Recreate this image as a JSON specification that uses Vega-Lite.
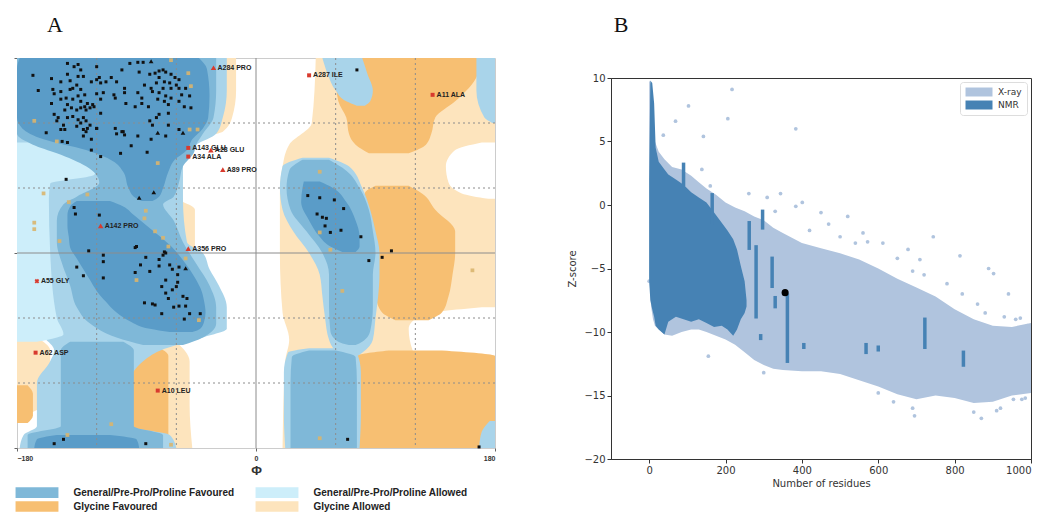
{
  "$schema": "https://vega.github.io/schema/vega-lite/v6.json",
  "background": "white",
  "padding": {"left": 13, "top": 5, "right": 0, "bottom": 0},
  "spacing": 71,
  "config": {"font": "Liberation Sans"},
  "resolve": {"scale": {"color": "independent"}, "legend": {"color": "independent"}},
  "datasets": {
    "reg": [
      {"r":"GA","g":"GA1","psi":180,"a":45,"b":180},{"r":"GA","g":"GA1","psi":120,"a":42,"b":180},{"r":"GA","g":"GA1","psi":100,"a":25,"b":180},
      {"r":"GA","g":"GA1","psi":80,"a":20,"b":180},{"r":"GA","g":"GA1","psi":55,"a":18,"b":180},{"r":"GA","g":"GA1","psi":0,"a":18,"b":180},
      {"r":"GA","g":"GA1","psi":-55,"a":20,"b":180},{"r":"GA","g":"GA1","psi":-80,"a":25,"b":180},{"r":"GA","g":"GA1","psi":-100,"a":22,"b":180},
      {"r":"GA","g":"GA1","psi":-180,"a":20,"b":180},
      {"r":"GA","g":"GA2","psi":180,"a":-75,"b":-15},{"r":"GA","g":"GA2","psi":150,"a":-72,"b":-15},{"r":"GA","g":"GA2","psi":125,"a":-70,"b":-18},
      {"r":"GA","g":"GA2","psi":112,"a":-65,"b":-25},{"r":"GA","g":"GA2","psi":108,"a":-60,"b":-40},
      {"r":"GA","g":"GA3","psi":-82,"a":-95,"b":-60},{"r":"GA","g":"GA3","psi":-100,"a":-102,"b":-50},{"r":"GA","g":"GA3","psi":-140,"a":-102,"b":-50},
      {"r":"GA","g":"GA3","psi":-180,"a":-102,"b":-48},
      {"r":"GA","g":"GA4","psi":-78,"a":-180,"b":-165},{"r":"GA","g":"GA4","psi":-90,"a":-180,"b":-155},{"r":"GA","g":"GA4","psi":-130,"a":-180,"b":-155},
      {"r":"GA","g":"GA4","psi":-145,"a":-180,"b":-165},{"r":"GA","g":"GA4","psi":-150,"a":-180,"b":-175},
      {"r":"GA","g":"GA5","psi":47,"a":-60,"b":-55},{"r":"GA","g":"GA5","psi":40,"a":-62,"b":-46},{"r":"GA","g":"GA5","psi":-40,"a":-62,"b":-46},
      {"r":"GA","g":"GA5","psi":-75,"a":-60,"b":-48},
      {"r":"W","g":"W1","psi":102,"a":170,"b":180},{"r":"W","g":"W1","psi":95,"a":150,"b":180},{"r":"W","g":"W1","psi":80,"a":143,"b":180},
      {"r":"W","g":"W1","psi":65,"a":145,"b":180},{"r":"W","g":"W1","psi":55,"a":155,"b":180},{"r":"W","g":"W1","psi":50,"a":175,"b":180},
      {"r":"W","g":"W2","psi":-50,"a":170,"b":180},{"r":"W","g":"W2","psi":-57,"a":125,"b":180},{"r":"W","g":"W2","psi":-70,"a":115,"b":180},
      {"r":"W","g":"W2","psi":-90,"a":118,"b":180},{"r":"W","g":"W2","psi":-100,"a":135,"b":180},{"r":"W","g":"W2","psi":-104,"a":170,"b":180},
      {"r":"GF","g":"GF1","psi":180,"a":58,"b":170},{"r":"GF","g":"GF1","psi":160,"a":60,"b":165},{"r":"GF","g":"GF1","psi":140,"a":62,"b":150},
      {"r":"GF","g":"GF1","psi":125,"a":68,"b":135},{"r":"GF","g":"GF1","psi":110,"a":70,"b":132},{"r":"GF","g":"GF1","psi":100,"a":75,"b":128},
      {"r":"GF","g":"GF1","psi":92,"a":85,"b":115},
      {"r":"GF","g":"GF2","psi":62,"a":90,"b":115},{"r":"GF","g":"GF2","psi":55,"a":82,"b":125},{"r":"GF","g":"GF2","psi":40,"a":84,"b":135},
      {"r":"GF","g":"GF2","psi":20,"a":86,"b":150},{"r":"GF","g":"GF2","psi":0,"a":88,"b":150},{"r":"GF","g":"GF2","psi":-20,"a":88,"b":148},
      {"r":"GF","g":"GF2","psi":-40,"a":90,"b":145},{"r":"GF","g":"GF2","psi":-55,"a":95,"b":140},{"r":"GF","g":"GF2","psi":-62,"a":105,"b":130},
      {"r":"GF","g":"GF3","psi":-90,"a":100,"b":140},{"r":"GF","g":"GF3","psi":-95,"a":76,"b":180},{"r":"GF","g":"GF3","psi":-120,"a":76,"b":180},
      {"r":"GF","g":"GF3","psi":-180,"a":76,"b":180},
      {"r":"GF","g":"GF4","psi":-88,"a":-85,"b":-72},{"r":"GF","g":"GF4","psi":-95,"a":-92,"b":-66},{"r":"GF","g":"GF4","psi":-140,"a":-93,"b":-66},
      {"r":"GF","g":"GF4","psi":-180,"a":-92,"b":-66},
      {"r":"GF","g":"GF5","psi":-122,"a":-180,"b":-172},{"r":"GF","g":"GF5","psi":-130,"a":-180,"b":-168},{"r":"GF","g":"GF5","psi":-150,"a":-180,"b":-168},
      {"r":"GF","g":"GF5","psi":-157,"a":-180,"b":-172},
      {"r":"A1","g":"A1a","psi":180,"a":-180,"b":-22},{"r":"A1","g":"A1a","psi":150,"a":-180,"b":-22},{"r":"A1","g":"A1a","psi":125,"a":-180,"b":-25},
      {"r":"A1","g":"A1a","psi":110,"a":-180,"b":-30},{"r":"A1","g":"A1a","psi":100,"a":-180,"b":-45},{"r":"A1","g":"A1a","psi":90,"a":-180,"b":-55},
      {"r":"A1","g":"A1a","psi":50,"a":-180,"b":-55},{"r":"A1","g":"A1a","psi":10,"a":-180,"b":-52},{"r":"A1","g":"A1a","psi":0,"a":-180,"b":-40},
      {"r":"A1","g":"A1a","psi":-15,"a":-180,"b":-35},{"r":"A1","g":"A1a","psi":-30,"a":-175,"b":-28},{"r":"A1","g":"A1a","psi":-50,"a":-170,"b":-22},
      {"r":"A1","g":"A1a","psi":-70,"a":-168,"b":-22},{"r":"A1","g":"A1a","psi":-78,"a":-160,"b":-40},{"r":"A1","g":"A1a","psi":-90,"a":-152,"b":-72},
      {"r":"A1","g":"A1a","psi":-100,"a":-155,"b":-85},{"r":"A1","g":"A1a","psi":-120,"a":-165,"b":-95},{"r":"A1","g":"A1a","psi":-160,"a":-165,"b":-95},
      {"r":"A1","g":"A1a","psi":-168,"a":-175,"b":-65},{"r":"A1","g":"A1a","psi":-180,"a":-178,"b":-60},
      {"r":"A1","g":"A1b","psi":180,"a":50,"b":80},{"r":"A1","g":"A1b","psi":165,"a":54,"b":84},{"r":"A1","g":"A1b","psi":150,"a":60,"b":88},
      {"r":"A1","g":"A1b","psi":140,"a":68,"b":86},{"r":"A1","g":"A1b","psi":136,"a":76,"b":82},
      {"r":"A1","g":"A1c","psi":180,"a":166,"b":180},{"r":"A1","g":"A1c","psi":150,"a":166,"b":180},{"r":"A1","g":"A1c","psi":125,"a":172,"b":180},
      {"r":"A1","g":"A1c","psi":120,"a":178,"b":180},
      {"r":"A1","g":"A1d","psi":-155,"a":176,"b":180},{"r":"A1","g":"A1d","psi":-165,"a":170,"b":180},{"r":"A1","g":"A1d","psi":-180,"a":168,"b":180},
      {"r":"A1","g":"A1e","psi":88,"a":35,"b":55},{"r":"A1","g":"A1e","psi":80,"a":20,"b":70},{"r":"A1","g":"A1e","psi":60,"a":18,"b":80},
      {"r":"A1","g":"A1e","psi":40,"a":20,"b":86},{"r":"A1","g":"A1e","psi":20,"a":28,"b":90},{"r":"A1","g":"A1e","psi":0,"a":40,"b":93},
      {"r":"A1","g":"A1e","psi":-20,"a":48,"b":93},{"r":"A1","g":"A1e","psi":-40,"a":50,"b":92},{"r":"A1","g":"A1e","psi":-60,"a":52,"b":90},
      {"r":"A1","g":"A1e","psi":-80,"a":55,"b":88},{"r":"A1","g":"A1e","psi":-92,"a":62,"b":80},{"r":"A1","g":"A1e","psi":-96,"a":70,"b":75},
      {"r":"A1","g":"A1f","psi":-88,"a":40,"b":60},{"r":"A1","g":"A1f","psi":-92,"a":24,"b":76},{"r":"A1","g":"A1f","psi":-110,"a":21,"b":79},
      {"r":"A1","g":"A1f","psi":-150,"a":21,"b":79},{"r":"A1","g":"A1f","psi":-180,"a":22,"b":78},
      {"r":"A0","g":"A0a","psi":102,"a":-180,"b":-150},{"r":"A0","g":"A0a","psi":97,"a":-180,"b":-125},{"r":"A0","g":"A0a","psi":85,"a":-180,"b":-116},
      {"r":"A0","g":"A0a","psi":72,"a":-180,"b":-122},{"r":"A0","g":"A0a","psi":64,"a":-180,"b":-155},{"r":"A0","g":"A0a","psi":50,"a":-180,"b":-156},
      {"r":"A0","g":"A0a","psi":0,"a":-180,"b":-155},{"r":"A0","g":"A0a","psi":-60,"a":-180,"b":-150},{"r":"A0","g":"A0a","psi":-75,"a":-180,"b":-145},
      {"r":"A0","g":"A0a","psi":-82,"a":-180,"b":-165},
      {"r":"A2","g":"A2a","psi":180,"a":-180,"b":-30},{"r":"A2","g":"A2a","psi":150,"a":-180,"b":-30},{"r":"A2","g":"A2a","psi":125,"a":-180,"b":-32},
      {"r":"A2","g":"A2a","psi":110,"a":-180,"b":-40},{"r":"A2","g":"A2a","psi":100,"a":-168,"b":-45},{"r":"A2","g":"A2a","psi":92,"a":-150,"b":-47},
      {"r":"A2","g":"A2a","psi":80,"a":-128,"b":-55},{"r":"A2","g":"A2a","psi":65,"a":-118,"b":-58},{"r":"A2","g":"A2a","psi":52,"a":-135,"b":-62},
      {"r":"A2","g":"A2a","psi":45,"a":-145,"b":-70},{"r":"A2","g":"A2a","psi":30,"a":-150,"b":-62},{"r":"A2","g":"A2a","psi":10,"a":-150,"b":-55},
      {"r":"A2","g":"A2a","psi":-10,"a":-146,"b":-45},{"r":"A2","g":"A2a","psi":-30,"a":-140,"b":-35},{"r":"A2","g":"A2a","psi":-50,"a":-135,"b":-30},
      {"r":"A2","g":"A2a","psi":-65,"a":-125,"b":-30},{"r":"A2","g":"A2a","psi":-78,"a":-105,"b":-40},{"r":"A2","g":"A2a","psi":-85,"a":-85,"b":-55},
      {"r":"A2","g":"A2b","psi":-82,"a":-140,"b":-100},{"r":"A2","g":"A2b","psi":-90,"a":-147,"b":-92},{"r":"A2","g":"A2b","psi":-160,"a":-147,"b":-92},
      {"r":"A2","g":"A2b","psi":-168,"a":-172,"b":-70},{"r":"A2","g":"A2b","psi":-180,"a":-172,"b":-70},
      {"r":"A2","g":"A2c","psi":86,"a":35,"b":55},{"r":"A2","g":"A2c","psi":76,"a":25,"b":68},{"r":"A2","g":"A2c","psi":60,"a":23,"b":78},
      {"r":"A2","g":"A2c","psi":40,"a":26,"b":85},{"r":"A2","g":"A2c","psi":20,"a":38,"b":88},{"r":"A2","g":"A2c","psi":0,"a":50,"b":90},
      {"r":"A2","g":"A2c","psi":-20,"a":55,"b":88},{"r":"A2","g":"A2c","psi":-50,"a":55,"b":88},{"r":"A2","g":"A2c","psi":-72,"a":56,"b":86},
      {"r":"A2","g":"A2c","psi":-82,"a":62,"b":80},{"r":"A2","g":"A2c","psi":-85,"a":70,"b":75},
      {"r":"A2","g":"A2d","psi":-90,"a":40,"b":60},{"r":"A2","g":"A2d","psi":-96,"a":27,"b":75},{"r":"A2","g":"A2d","psi":-120,"a":26,"b":76},
      {"r":"A2","g":"A2d","psi":-180,"a":26,"b":76},
      {"r":"F","g":"Fa","psi":180,"a":-178,"b":-43},{"r":"F","g":"Fa","psi":170,"a":-180,"b":-37},{"r":"F","g":"Fa","psi":145,"a":-180,"b":-35},
      {"r":"F","g":"Fa","psi":125,"a":-180,"b":-36},{"r":"F","g":"Fa","psi":115,"a":-176,"b":-40},{"r":"F","g":"Fa","psi":105,"a":-160,"b":-48},
      {"r":"F","g":"Fa","psi":95,"a":-128,"b":-52},{"r":"F","g":"Fa","psi":85,"a":-108,"b":-62},{"r":"F","g":"Fa","psi":75,"a":-100,"b":-66},
      {"r":"F","g":"Fa","psi":60,"a":-96,"b":-70},{"r":"F","g":"Fa","psi":52,"a":-92,"b":-73},{"r":"F","g":"Fa","psi":48,"a":-86,"b":-78},
      {"r":"F","g":"Fb","psi":48,"a":-135,"b":-110},{"r":"F","g":"Fb","psi":43,"a":-140,"b":-100},{"r":"F","g":"Fb","psi":35,"a":-142,"b":-92},
      {"r":"F","g":"Fb","psi":25,"a":-142,"b":-82},{"r":"F","g":"Fb","psi":15,"a":-141,"b":-72},{"r":"F","g":"Fb","psi":5,"a":-140,"b":-63},
      {"r":"F","g":"Fb","psi":-5,"a":-135,"b":-56},{"r":"F","g":"Fb","psi":-15,"a":-130,"b":-50},{"r":"F","g":"Fb","psi":-25,"a":-125,"b":-45},
      {"r":"F","g":"Fb","psi":-35,"a":-120,"b":-41},{"r":"F","g":"Fb","psi":-45,"a":-113,"b":-39},{"r":"F","g":"Fb","psi":-55,"a":-105,"b":-38},
      {"r":"F","g":"Fb","psi":-63,"a":-95,"b":-39},{"r":"F","g":"Fb","psi":-70,"a":-80,"b":-42},{"r":"F","g":"Fb","psi":-73,"a":-65,"b":-48},
      {"r":"F","g":"Fc","psi":66,"a":36,"b":48},{"r":"F","g":"Fc","psi":60,"a":35,"b":58},{"r":"F","g":"Fc","psi":47,"a":34,"b":68},
      {"r":"F","g":"Fc","psi":30,"a":40,"b":75},{"r":"F","g":"Fc","psi":15,"a":48,"b":78},{"r":"F","g":"Fc","psi":6,"a":56,"b":78},
      {"r":"F","g":"Fc","psi":1,"a":65,"b":75},
      {"r":"F","g":"Fd","psi":-168,"a":-150,"b":-110},{"r":"F","g":"Fd","psi":-172,"a":-165,"b":-90},{"r":"F","g":"Fd","psi":-180,"a":-167,"b":-88}
    ],
    "grid": [
      {"v":-120,"k":"d"},{"v":-60,"k":"d"},{"v":60,"k":"d"},{"v":120,"k":"d"},{"v":0,"k":"s"}
    ],
    "pts": [
      {"phi":-142,"psi":175,"t":"g"},{"phi":-137,"psi":172,"t":"g"},{"phi":-134,"psi":174,"t":"g"},{"phi":-132,"psi":169,"t":"g"},{"phi":-120,"psi":172,"t":"g"},
      {"phi":-168,"psi":164,"t":"g"},{"phi":-154,"psi":161,"t":"g"},{"phi":-147,"psi":158,"t":"g"},{"phi":-142,"psi":165,"t":"g"},{"phi":-140,"psi":159,"t":"g"},
      {"phi":-135,"psi":155,"t":"g"},{"phi":-134,"psi":163,"t":"g"},{"phi":-130,"psi":163,"t":"g"},{"phi":-124,"psi":158,"t":"g"},{"phi":-120,"psi":160,"t":"g"},
      {"phi":-118,"psi":162,"t":"g"},{"phi":-117,"psi":157,"t":"g"},{"phi":-113,"psi":158,"t":"g"},{"phi":-109,"psi":162,"t":"g"},{"phi":-164,"psi":150,"t":"g"},
      {"phi":-153,"psi":151,"t":"g"},{"phi":-152,"psi":147,"t":"g"},{"phi":-147,"psi":149,"t":"g"},{"phi":-140,"psi":151,"t":"g"},{"phi":-138,"psi":152,"t":"g"},
      {"phi":-132,"psi":151,"t":"g"},{"phi":-129,"psi":146,"t":"g"},{"phi":-120,"psi":147,"t":"g"},{"phi":-115,"psi":148,"t":"g"},{"phi":-154,"psi":138,"t":"g"},
      {"phi":-147,"psi":142,"t":"g"},{"phi":-143,"psi":143,"t":"g"},{"phi":-142,"psi":137,"t":"g"},{"phi":-138,"psi":142,"t":"g"},{"phi":-134,"psi":145,"t":"g"},
      {"phi":-132,"psi":140,"t":"g"},{"phi":-129,"psi":135,"t":"g"},{"phi":-127,"psi":138,"t":"g"},{"phi":-123,"psi":137,"t":"g"},{"phi":-117,"psi":142,"t":"g"},
      {"phi":-144,"psi":132,"t":"g"},{"phi":-139,"psi":134,"t":"g"},{"phi":-135,"psi":132,"t":"g"},{"phi":-132,"psi":134,"t":"g"},{"phi":-128,"psi":132,"t":"g"},
      {"phi":-125,"psi":134,"t":"g"},{"phi":-122,"psi":135,"t":"g"},{"phi":-149,"psi":125,"t":"g"},{"phi":-142,"psi":125,"t":"g"},{"phi":-138,"psi":126,"t":"g"},
      {"phi":-134,"psi":123,"t":"g"},{"phi":-130,"psi":125,"t":"g"},{"phi":-128,"psi":122,"t":"g"},{"phi":-150,"psi":122,"t":"g"},{"phi":-145,"psi":118,"t":"g"},
      {"phi":-135,"psi":117,"t":"g"},{"phi":-132,"psi":120,"t":"g"},{"phi":-125,"psi":118,"t":"g"},{"phi":-120,"psi":115,"t":"g"},{"phi":-117,"psi":129,"t":"g"},
      {"phi":-147,"psi":114,"t":"g"},{"phi":-130,"psi":114,"t":"g"},{"phi":-152,"psi":128,"t":"g"},
      {"phi":-95,"psi":175,"t":"g"},{"phi":-89,"psi":176,"t":"g"},{"phi":-85,"psi":176,"t":"g"},{"phi":-101,"psi":169,"t":"g"},{"phi":-88,"psi":167,"t":"g"},
      {"phi":-80,"psi":165,"t":"g"},{"phi":-76,"psi":166,"t":"g"},{"phi":-73,"psi":168,"t":"g"},{"phi":-70,"psi":169,"t":"g"},{"phi":-68,"psi":167,"t":"g"},
      {"phi":-64,"psi":165,"t":"g"},{"phi":-61,"psi":162,"t":"g"},{"phi":-58,"psi":160,"t":"g"},{"phi":-73,"psi":162,"t":"g"},{"phi":-69,"psi":158,"t":"g"},
      {"phi":-65,"psi":157,"t":"g"},{"phi":-60,"psi":155,"t":"g"},{"phi":-75,"psi":157,"t":"g"},{"phi":-105,"psi":158,"t":"g"},{"phi":-99,"psi":152,"t":"g"},
      {"phi":-84,"psi":155,"t":"g"},{"phi":-79,"psi":152,"t":"g"},{"phi":-70,"psi":152,"t":"g"},{"phi":-64,"psi":152,"t":"g"},{"phi":-58,"psi":152,"t":"g"},
      {"phi":-53,"psi":152,"t":"g"},{"phi":-107,"psi":146,"t":"g"},{"phi":-106,"psi":143,"t":"g"},{"phi":-99,"psi":148,"t":"g"},{"phi":-89,"psi":148,"t":"g"},
      {"phi":-86,"psi":143,"t":"g"},{"phi":-78,"psi":149,"t":"g"},{"phi":-73,"psi":148,"t":"g"},{"phi":-68,"psi":145,"t":"g"},{"phi":-64,"psi":143,"t":"g"},
      {"phi":-56,"psi":146,"t":"g"},{"phi":-50,"psi":145,"t":"g"},{"phi":-98,"psi":138,"t":"g"},{"phi":-91,"psi":135,"t":"g"},{"phi":-86,"psi":138,"t":"g"},
      {"phi":-81,"psi":135,"t":"g"},{"phi":-74,"psi":142,"t":"g"},{"phi":-69,"psi":140,"t":"g"},{"phi":-66,"psi":137,"t":"g"},{"phi":-58,"psi":140,"t":"g"},
      {"phi":-54,"psi":135,"t":"g"},{"phi":-49,"psi":134,"t":"g"},{"phi":-73,"psi":128,"t":"g"},{"phi":-66,"psi":129,"t":"g"},{"phi":-75,"psi":125,"t":"g"},
      {"phi":-80,"psi":122,"t":"g"},{"phi":-78,"psi":118,"t":"g"},{"phi":-66,"psi":118,"t":"g"},{"phi":-58,"psi":114,"t":"g"},{"phi":-106,"psi":115,"t":"g"},
      {"phi":-101,"psi":112,"t":"g"},
      {"phi":-158,"psi":111,"t":"g"},{"phi":-144,"psi":114,"t":"g"},{"phi":-128,"psi":112,"t":"g"},{"phi":-127,"psi":115,"t":"g"},{"phi":-120,"psi":115,"t":"g"},
      {"phi":-130,"psi":108,"t":"g"},{"phi":-124,"psi":105,"t":"g"},{"phi":-146,"psi":103,"t":"g"},{"phi":-142,"psi":102,"t":"g"},{"phi":-124,"psi":95,"t":"g"},
      {"phi":-117,"psi":89,"t":"g"},{"phi":-105,"psi":110,"t":"g"},{"phi":-100,"psi":112,"t":"g"},{"phi":-99,"psi":109,"t":"g"},{"phi":-89,"psi":108,"t":"g"},
      {"phi":-79,"psi":105,"t":"g"},{"phi":-94,"psi":99,"t":"g"},{"phi":-102,"psi":92,"t":"g"},{"phi":-82,"psi":93,"t":"g"},{"phi":-68,"psi":108,"t":"g"},
      {"phi":-143,"psi":68,"t":"g"},
      {"phi":-137,"psi":42,"t":"g"},{"phi":-136,"psi":36,"t":"g"},{"phi":-118,"psi":35,"t":"g"},{"phi":-126,"psi":2,"t":"g"},{"phi":-115,"psi":-2,"t":"g"},
      {"phi":-115,"psi":-8,"t":"g"},{"phi":-135,"psi":-13,"t":"g"},{"phi":-130,"psi":-21,"t":"g"},{"phi":-115,"psi":-23,"t":"g"},{"phi":-91,"psi":5,"t":"g"},
      {"phi":-90,"psi":6,"t":"g"},{"phi":-83,"psi":-4,"t":"g"},{"phi":-73,"psi":-6,"t":"g"},{"phi":-69,"psi":1,"t":"g"},{"phi":-70,"psi":-2,"t":"g"},
      {"phi":-68,"psi":0,"t":"g"},{"phi":-87,"psi":-11,"t":"g"},{"phi":-91,"psi":-18,"t":"g"},{"phi":-80,"psi":-17,"t":"g"},{"phi":-73,"psi":-12,"t":"g"},
      {"phi":-65,"psi":-11,"t":"g"},{"phi":-63,"psi":-15,"t":"g"},{"phi":-58,"psi":-13,"t":"g"},{"phi":-59,"psi":-20,"t":"g"},{"phi":-68,"psi":-25,"t":"g"},
      {"phi":-59,"psi":-27,"t":"g"},{"phi":-60,"psi":-31,"t":"g"},{"phi":-71,"psi":-31,"t":"g"},{"phi":-63,"psi":-34,"t":"g"},{"phi":-68,"psi":-37,"t":"g"},
      {"phi":-66,"psi":-42,"t":"g"},{"phi":-84,"psi":-46,"t":"g"},{"phi":-78,"psi":-47,"t":"g"},{"phi":-76,"psi":-48,"t":"g"},{"phi":-55,"psi":-40,"t":"g"},
      {"phi":-52,"psi":-42,"t":"g"},{"phi":-62,"psi":-50,"t":"g"},{"phi":-58,"psi":-49,"t":"g"},{"phi":-53,"psi":-49,"t":"g"},{"phi":-50,"psi":-56,"t":"g"},
      {"phi":-71,"psi":-56,"t":"g"},{"phi":-42,"psi":-56,"t":"g"},{"phi":-54,"psi":-61,"t":"g"},
      {"phi":39,"psi":53,"t":"g"},{"phi":48,"psi":51,"t":"g"},{"phi":59,"psi":49,"t":"g"},{"phi":66,"psi":41,"t":"g"},{"phi":46,"psi":36,"t":"g"},
      {"phi":50,"psi":33,"t":"g"},{"phi":53,"psi":32,"t":"g"},{"phi":52,"psi":25,"t":"g"},{"phi":56,"psi":19,"t":"g"},{"phi":64,"psi":21,"t":"g"},
      {"phi":79,"psi":15,"t":"g"},{"phi":102,"psi":2,"t":"g"},{"phi":85,"psi":-7,"t":"g"},{"phi":95,"psi":-4,"t":"g"},
      {"phi":-152,"psi":-176,"t":"g"},{"phi":-145,"psi":-172,"t":"g"},{"phi":-83,"psi":-176,"t":"g"},{"phi":69,"psi":-172,"t":"g"},{"phi":168,"psi":-179,"t":"g"},
      {"phi":76,"psi":169,"t":"g"},
      {"phi":-74,"psi":111,"t":"p"},{"phi":-55,"psi":111,"t":"p"},{"phi":-77,"psi":56,"t":"p"},{"phi":-88,"psi":51,"t":"p"},{"phi":-79,"psi":177,"t":"p"},
      {"phi":-53,"psi":-14,"t":"p"},
      {"phi":-167,"psi":122,"t":"y"},{"phi":-160,"psi":55,"t":"y"},{"phi":-127,"psi":54,"t":"y"},{"phi":-167,"psi":28,"t":"y"},{"phi":-167,"psi":22,"t":"y"},
      {"phi":-148,"psi":11,"t":"y"},{"phi":-141,"psi":47,"t":"y"},{"phi":-83,"psi":39,"t":"y"},{"phi":-84,"psi":32,"t":"y"},{"phi":-76,"psi":20,"t":"y"},
      {"phi":-70,"psi":14,"t":"y"},{"phi":-90,"psi":-25,"t":"y"},{"phi":-66,"psi":6,"t":"y"},{"phi":-53,"psi":-5,"t":"y"},{"phi":-43,"psi":-62,"t":"y"},
      {"phi":-142,"psi":-168,"t":"y"},{"phi":-109,"psi":-158,"t":"y"},{"phi":48,"psi":-171,"t":"y"},{"phi":65,"psi":-35,"t":"y"},{"phi":56,"psi":3,"t":"y"},
      {"phi":48,"psi":19,"t":"y"},{"phi":48,"psi":75,"t":"y"},{"phi":163,"psi":-16,"t":"y"},{"phi":-50,"psi":114,"t":"y"},{"phi":-44,"psi":114,"t":"y"},
      {"phi":-64,"psi":178,"t":"y"},{"phi":-51,"psi":166,"t":"y"},{"phi":-49,"psi":154,"t":"y"},{"phi":-150,"psi":103,"t":"y"},{"phi":-74,"psi":83,"t":"y"},
      {"phi":-64,"psi":-177,"t":"y"},
      {"phi":40,"psi":164,"t":"o","lab":"A287 ILE"},
      {"phi":133,"psi":146,"t":"o","lab":"A11 ALA"},
      {"phi":-51,"psi":97,"t":"o","lab":"A143 GLU"},
      {"phi":-51,"psi":89,"t":"o","lab":"A34 ALA"},
      {"phi":-166,"psi":-92,"t":"o","lab":"A62 ASP"},
      {"phi":-74,"psi":-127,"t":"o","lab":"A10 LEU"},
      {"phi":-32,"psi":171,"t":"ot","lab":"A284 PRO"},
      {"phi":-34,"psi":95,"t":"ot","lab":"A28 GLU"},
      {"phi":-25,"psi":77,"t":"ot","lab":"A89 PRO"},
      {"phi":-117,"psi":25,"t":"ot","lab":"A142 PRO"},
      {"phi":-51,"psi":4,"t":"ot","lab":"A356 PRO"},
      {"phi":-165,"psi":-26,"t":"ox","lab":"A55 GLY"}
    ],
    "xray": [
      {"n":0,"hi":9.8,"lo":-5.5,"src":"X-ray"},{"n":5,"hi":9.5,"lo":-8,"src":"X-ray"},{"n":10,"hi":7,"lo":-9,"src":"X-ray"},
      {"n":15,"hi":5,"lo":-9.5,"src":"X-ray"},{"n":25,"hi":4.2,"lo":-9.8,"src":"X-ray"},{"n":40,"hi":3.6,"lo":-10.2,"src":"X-ray"},
      {"n":60,"hi":3.0,"lo":-10.3,"src":"X-ray"},{"n":85,"hi":2.8,"lo":-10,"src":"X-ray"},{"n":110,"hi":2.3,"lo":-9.8,"src":"X-ray"},
      {"n":130,"hi":1.8,"lo":-9.8,"src":"X-ray"},{"n":150,"hi":1.3,"lo":-10,"src":"X-ray"},{"n":175,"hi":0.8,"lo":-10.3,"src":"X-ray"},
      {"n":200,"hi":0.2,"lo":-10.6,"src":"X-ray"},{"n":225,"hi":-0.2,"lo":-11.0,"src":"X-ray"},{"n":250,"hi":-0.5,"lo":-11.6,"src":"X-ray"},
      {"n":275,"hi":-0.9,"lo":-12.2,"src":"X-ray"},{"n":300,"hi":-1.2,"lo":-12.6,"src":"X-ray"},{"n":325,"hi":-1.8,"lo":-12.9,"src":"X-ray"},
      {"n":350,"hi":-2.2,"lo":-13.0,"src":"X-ray"},{"n":400,"hi":-3.0,"lo":-13.1,"src":"X-ray"},{"n":450,"hi":-3.4,"lo":-13.1,"src":"X-ray"},
      {"n":500,"hi":-3.8,"lo":-13.3,"src":"X-ray"},{"n":550,"hi":-4.3,"lo":-13.8,"src":"X-ray"},{"n":600,"hi":-5.0,"lo":-14.3,"src":"X-ray"},
      {"n":650,"hi":-5.8,"lo":-14.9,"src":"X-ray"},{"n":700,"hi":-6.5,"lo":-15.3,"src":"X-ray"},{"n":750,"hi":-7.2,"lo":-15.0,"src":"X-ray"},
      {"n":800,"hi":-8.2,"lo":-15.2,"src":"X-ray"},{"n":850,"hi":-9.0,"lo":-15.6,"src":"X-ray"},{"n":900,"hi":-9.5,"lo":-15.5,"src":"X-ray"},
      {"n":950,"hi":-9.6,"lo":-15.0,"src":"X-ray"},{"n":1000,"hi":-9.3,"lo":-14.8,"src":"X-ray"}
    ],
    "nmr": [
      {"n":0,"hi":2.0,"lo":-6.0,"src":"NMR"},{"n":3,"hi":9.8,"lo":-7.5,"src":"NMR"},{"n":8,"hi":9.6,"lo":-8.2,"src":"NMR"},
      {"n":13,"hi":8.0,"lo":-8.8,"src":"NMR"},{"n":17,"hi":4.5,"lo":-9.5,"src":"NMR"},{"n":25,"hi":3.4,"lo":-9.8,"src":"NMR"},
      {"n":40,"hi":2.8,"lo":-10.2,"src":"NMR"},{"n":50,"hi":2.4,"lo":-9.2,"src":"NMR"},{"n":70,"hi":2.0,"lo":-8.8,"src":"NMR"},
      {"n":90,"hi":1.6,"lo":-9.0,"src":"NMR"},{"n":110,"hi":1.0,"lo":-9.2,"src":"NMR"},{"n":130,"hi":0.6,"lo":-9.0,"src":"NMR"},
      {"n":150,"hi":0.2,"lo":-9.3,"src":"NMR"},{"n":170,"hi":-0.6,"lo":-9.6,"src":"NMR"},{"n":190,"hi":-1.4,"lo":-9.5,"src":"NMR"},
      {"n":205,"hi":-2.0,"lo":-9.8,"src":"NMR"},{"n":220,"hi":-2.7,"lo":-10.3,"src":"NMR"},{"n":230,"hi":-3.5,"lo":-9.8,"src":"NMR"},
      {"n":240,"hi":-4.8,"lo":-9.0,"src":"NMR"},{"n":250,"hi":-6.0,"lo":-8.5,"src":"NMR"},{"n":255,"hi":-7.5,"lo":-8.0,"src":"NMR"}
    ],
    "nmrbar": [
      {"n":90,"hi":3.2,"lo":1.6,"src":"NMR"},{"n":165,"hi":0.8,"lo":-1.4,"src":"NMR"},{"n":262,"hi":-1.4,"lo":-3.4,"src":"NMR"},
      {"n":280,"hi":-3.3,"lo":-8.8,"src":"NMR"},{"n":297,"hi":-0.5,"lo":-1.8,"src":"NMR"},{"n":322,"hi":-4.2,"lo":-6.4,"src":"NMR"},
      {"n":330,"hi":-7.3,"lo":-8.0,"src":"NMR"},{"n":362,"hi":-7.1,"lo":-12.3,"src":"NMR"},{"n":292,"hi":-10.3,"lo":-10.5,"src":"NMR"},
      {"n":405,"hi":-11.0,"lo":-11.2,"src":"NMR"},{"n":568,"hi":-11.0,"lo":-11.6,"src":"NMR"},{"n":600,"hi":-11.2,"lo":-11.4,"src":"NMR"},
      {"n":722,"hi":-9.0,"lo":-11.2,"src":"NMR"},{"n":823,"hi":-11.6,"lo":-12.6,"src":"NMR"}
    ],
    "out": [
      {"n":217,"z":9.1,"src":"X-ray"},{"n":103,"z":7.8,"src":"X-ray"},{"n":206,"z":6.8,"src":"X-ray"},{"n":69,"z":6.6,"src":"X-ray"},
      {"n":384,"z":6.0,"src":"X-ray"},{"n":142,"z":5.4,"src":"X-ray"},{"n":37,"z":5.5,"src":"X-ray"},{"n":138,"z":2.8,"src":"X-ray"},
      {"n":160,"z":1.5,"src":"X-ray"},{"n":261,"z":0.9,"src":"X-ray"},{"n":309,"z":0.6,"src":"X-ray"},{"n":344,"z":0.9,"src":"X-ray"},
      {"n":384,"z":-0.1,"src":"X-ray"},{"n":401,"z":0.2,"src":"X-ray"},{"n":450,"z":-0.6,"src":"X-ray"},{"n":520,"z":-0.9,"src":"X-ray"},
      {"n":744,"z":-2.5,"src":"X-ray"},{"n":572,"z":-2.9,"src":"X-ray"},{"n":612,"z":-3.0,"src":"X-ray"},{"n":678,"z":-3.5,"src":"X-ray"},
      {"n":709,"z":-4.3,"src":"X-ray"},{"n":814,"z":-4.0,"src":"X-ray"},{"n":941,"z":-7.0,"src":"X-ray"},{"n":972,"z":-8.9,"src":"X-ray"},
      {"n":910,"z":-16.2,"src":"X-ray"},{"n":976,"z":-15.3,"src":"X-ray"},{"n":954,"z":-15.3,"src":"X-ray"},{"n":889,"z":-5.0,"src":"X-ray"},
      {"n":902,"z":-5.4,"src":"X-ray"},{"n":155,"z":-11.9,"src":"X-ray"},{"n":0,"z":-6.0,"src":"X-ray"},
      {"n":240,"z":-1.5,"src":"X-ray"},{"n":270,"z":-2.0,"src":"X-ray"},{"n":310,"z":-2.6,"src":"X-ray"},{"n":330,"z":-0.5,"src":"X-ray"},
      {"n":420,"z":-2.0,"src":"X-ray"},{"n":470,"z":-1.5,"src":"X-ray"},{"n":500,"z":-2.5,"src":"X-ray"},{"n":540,"z":-3.0,"src":"X-ray"},
      {"n":560,"z":-2.2,"src":"X-ray"},{"n":650,"z":-4.2,"src":"X-ray"},{"n":690,"z":-5.2,"src":"X-ray"},{"n":720,"z":-5.5,"src":"X-ray"},
      {"n":780,"z":-6.2,"src":"X-ray"},{"n":820,"z":-7.0,"src":"X-ray"},{"n":860,"z":-7.8,"src":"X-ray"},{"n":880,"z":-8.5,"src":"X-ray"},
      {"n":930,"z":-8.8,"src":"X-ray"},{"n":960,"z":-9.0,"src":"X-ray"},{"n":990,"z":-9.5,"src":"X-ray"},{"n":600,"z":-14.8,"src":"X-ray"},
      {"n":640,"z":-15.5,"src":"X-ray"},{"n":690,"z":-16.0,"src":"X-ray"},{"n":695,"z":-16.6,"src":"X-ray"},{"n":850,"z":-16.3,"src":"X-ray"},
      {"n":870,"z":-16.8,"src":"X-ray"},{"n":920,"z":-16.0,"src":"X-ray"},{"n":985,"z":-15.2,"src":"X-ray"},{"n":300,"z":-13.2,"src":"X-ray"}
    ],
    "model": [{"n":356,"z":-6.9}]
  },
  "hconcat": [
    {
      "spacing": 12,
      "resolve": {"scale": {"color": "independent"}, "legend": {"color": "independent"}},
      "vconcat": [
        {
          "width": 76,
          "height": 40,
          "view": {"stroke": null},
          "data": {"values": [{"t": "A"}]},
          "mark": {"type": "text", "font": "Liberation Serif", "fontSize": 22, "color": "#111111", "align": "center", "baseline": "middle"},
          "encoding": {"text": {"field": "t"}}
        },
        {
          "width": 478,
          "height": 390,
          "view": {"stroke": "#cccccc"},
          "layer": [
            {
              "data": {"name": "reg"},
              "transform": [{"filter": "datum.r == 'GA'"}],
              "mark": {"type": "area", "orient": "horizontal", "interpolate": "monotone", "clip": true},
              "encoding": {
                "y": {"field": "psi", "type": "quantitative", "title": null, "scale": {"domain": [-180, 180], "nice": false, "zero": false},
                      "axis": {"values": [-180, 0, 180], "labels": false, "tickSize": 3, "tickColor": "#666666", "domain": false, "grid": false}},
                "x": {"field": "a", "type": "quantitative", "title": "Φ", "scale": {"domain": [-180, 180], "nice": false, "zero": false},
                      "axis": {"values": [-180, 0, 180], "titleFontSize": 13, "titleFontWeight": "bold", "titleColor": "#333333", "titlePadding": 3,
                               "labelFontSize": 7, "labelFontWeight": "bold", "labelColor": "#333333", "tickSize": 3, "tickColor": "#666666", "domain": false, "grid": false, "labelPadding": 3}},
                "x2": {"field": "b"},
                "detail": {"field": "g"},
                "color": {"field": "r", "type": "nominal",
                          "scale": {"domain": ["GA", "W", "GF", "A1", "A0", "A2", "F"], "range": ["#fde4bd", "#ffffff", "#f7bf72", "#a9d4ea", "#cdeefa", "#7fb8d8", "#5a9cc8"]},
                          "legend": {"orient": "bottom", "direction": "horizontal", "columns": 2, "title": null,
                                     "values": ["A2", "A0", "GF", "GA"],
                                     "labelExpr": "datum.label == 'A2' ? 'General/Pre-Pro/Proline Favoured' : datum.label == 'A0' ? 'General/Pre-Pro/Proline Allowed' : datum.label == 'GF' ? 'Glycine Favoured' : 'Glycine Allowed'",
                                     "symbolType": "M-4,-1H4V1H-4Z", "symbolSize": 115, "symbolStrokeWidth": 0, "symbolOffset": 14.5,
                                     "labelOffset": 31, "labelFontSize": 10, "labelFontWeight": "bold", "labelColor": "#222222", "labelLimit": 0,
                                     "columnPadding": 20, "rowPadding": 3, "gridAlign": "all", "offset": 10}}
              }
            },
            {
              "data": {"name": "reg"},
              "transform": [{"filter": "datum.r == 'W'"}],
              "mark": {"type": "area", "orient": "horizontal", "interpolate": "monotone", "clip": true},
              "encoding": {
                "y": {"field": "psi", "type": "quantitative", "title": null},
                "x": {"field": "a", "type": "quantitative", "title": "Φ"},
                "x2": {"field": "b"},
                "detail": {"field": "g"},
                "color": {"field": "r", "type": "nominal"}
              }
            },
            {
              "data": {"name": "reg"},
              "transform": [{"filter": "datum.r == 'GF'"}],
              "mark": {"type": "area", "orient": "horizontal", "interpolate": "monotone", "clip": true},
              "encoding": {
                "y": {"field": "psi", "type": "quantitative", "title": null},
                "x": {"field": "a", "type": "quantitative", "title": "Φ"},
                "x2": {"field": "b"},
                "detail": {"field": "g"},
                "color": {"field": "r", "type": "nominal"}
              }
            },
            {
              "data": {"name": "reg"},
              "transform": [{"filter": "datum.r == 'A1'"}],
              "mark": {"type": "area", "orient": "horizontal", "interpolate": "monotone", "clip": true},
              "encoding": {
                "y": {"field": "psi", "type": "quantitative", "title": null},
                "x": {"field": "a", "type": "quantitative", "title": "Φ"},
                "x2": {"field": "b"},
                "detail": {"field": "g"},
                "color": {"field": "r", "type": "nominal"}
              }
            },
            {
              "data": {"name": "reg"},
              "transform": [{"filter": "datum.r == 'A0'"}],
              "mark": {"type": "area", "orient": "horizontal", "interpolate": "monotone", "clip": true},
              "encoding": {
                "y": {"field": "psi", "type": "quantitative", "title": null},
                "x": {"field": "a", "type": "quantitative", "title": "Φ"},
                "x2": {"field": "b"},
                "detail": {"field": "g"},
                "color": {"field": "r", "type": "nominal"}
              }
            },
            {
              "data": {"name": "reg"},
              "transform": [{"filter": "datum.r == 'A2'"}],
              "mark": {"type": "area", "orient": "horizontal", "interpolate": "monotone", "clip": true},
              "encoding": {
                "y": {"field": "psi", "type": "quantitative", "title": null},
                "x": {"field": "a", "type": "quantitative", "title": "Φ"},
                "x2": {"field": "b"},
                "detail": {"field": "g"},
                "color": {"field": "r", "type": "nominal"}
              }
            },
            {
              "data": {"name": "reg"},
              "transform": [{"filter": "datum.r == 'F'"}],
              "mark": {"type": "area", "orient": "horizontal", "interpolate": "monotone", "clip": true},
              "encoding": {
                "y": {"field": "psi", "type": "quantitative", "title": null},
                "x": {"field": "a", "type": "quantitative", "title": "Φ"},
                "x2": {"field": "b"},
                "detail": {"field": "g"},
                "color": {"field": "r", "type": "nominal"}
              }
            },
            {
              "data": {"name": "grid"},
              "mark": {"type": "rule", "color": "#8c8c8c", "strokeWidth": 1},
              "encoding": {
                "x": {"field": "v", "type": "quantitative", "title": "Φ"},
                "strokeDash": {"field": "k", "type": "nominal", "scale": {"domain": ["d", "s"], "range": [[2, 3], [1, 0]]}, "legend": null}
              }
            },
            {
              "data": {"name": "grid"},
              "mark": {"type": "rule", "color": "#8c8c8c", "strokeWidth": 1},
              "encoding": {
                "y": {"field": "v", "type": "quantitative", "title": null},
                "strokeDash": {"field": "k", "type": "nominal", "scale": {"domain": ["d", "s"], "range": [[4, 3], [1, 0]]}, "legend": null}
              }
            },
            {
              "data": {"name": "pts"},
              "transform": [{"filter": "datum.t == 'y'"}],
              "mark": {"type": "square", "size": 14, "color": "#d9b56e", "opacity": 0.9},
              "encoding": {
                "x": {"field": "phi", "type": "quantitative", "title": "Φ"},
                "y": {"field": "psi", "type": "quantitative", "title": null}
              }
            },
            {
              "data": {"name": "pts"},
              "transform": [{"filter": "datum.t == 'g'"}],
              "mark": {"type": "square", "size": 9, "color": "#111111", "opacity": 1},
              "encoding": {
                "x": {"field": "phi", "type": "quantitative", "title": "Φ"},
                "y": {"field": "psi", "type": "quantitative", "title": null}
              }
            },
            {
              "data": {"name": "pts"},
              "transform": [{"filter": "datum.t == 'p'"}],
              "mark": {"type": "point", "shape": "triangle-up", "size": 22, "filled": true, "color": "#111111", "opacity": 1},
              "encoding": {
                "x": {"field": "phi", "type": "quantitative", "title": "Φ"},
                "y": {"field": "psi", "type": "quantitative", "title": null}
              }
            },
            {
              "data": {"name": "pts"},
              "transform": [{"filter": "datum.t == 'o'"}],
              "mark": {"type": "square", "size": 16, "color": "#d83a2e", "opacity": 1},
              "encoding": {
                "x": {"field": "phi", "type": "quantitative", "title": "Φ"},
                "y": {"field": "psi", "type": "quantitative", "title": null}
              }
            },
            {
              "data": {"name": "pts"},
              "transform": [{"filter": "datum.t == 'ot'"}],
              "mark": {"type": "point", "shape": "triangle-up", "size": 30, "filled": true, "color": "#d83a2e", "opacity": 1},
              "encoding": {
                "x": {"field": "phi", "type": "quantitative", "title": "Φ"},
                "y": {"field": "psi", "type": "quantitative", "title": null}
              }
            },
            {
              "data": {"name": "pts"},
              "transform": [{"filter": "datum.t == 'ox'"}],
              "mark": {"type": "point", "shape": "cross", "angle": 45, "size": 22, "filled": true, "color": "#d83a2e", "opacity": 1},
              "encoding": {
                "x": {"field": "phi", "type": "quantitative", "title": "Φ"},
                "y": {"field": "psi", "type": "quantitative", "title": null}
              }
            },
            {
              "data": {"name": "pts"},
              "transform": [{"filter": "datum.lab != null"}],
              "mark": {"type": "text", "align": "left", "baseline": "middle", "dx": 4, "fontSize": 7, "fontWeight": "bold", "color": "#222222", "font": "Liberation Sans"},
              "encoding": {
                "x": {"field": "phi", "type": "quantitative", "title": "Φ"},
                "y": {"field": "psi", "type": "quantitative", "title": null},
                "text": {"field": "lab"}
              }
            }
          ]
        }
      ]
    },
    {
      "spacing": 27,
      "resolve": {"scale": {"color": "independent"}, "legend": {"color": "independent"}},
      "vconcat": [
        {
          "width": 20,
          "height": 40,
          "view": {"stroke": null},
          "data": {"values": [{"t": "B"}]},
          "mark": {"type": "text", "font": "Liberation Serif", "fontSize": 22, "color": "#111111", "align": "center", "baseline": "middle"},
          "encoding": {"text": {"field": "t"}}
        },
        {
          "width": 420,
          "height": 381,
          "view": {"stroke": "#333333", "strokeWidth": 1},
          "layer": [
            {
              "data": {"name": "xray"},
              "mark": {"type": "area", "interpolate": "linear", "opacity": 1},
              "encoding": {
                "x": {"field": "n", "type": "quantitative", "title": "Number of residues", "scale": {"domain": [-100, 1000], "nice": false, "zero": false},
                      "axis": {"values": [0, 200, 400, 600, 800, 1000], "format": "d", "grid": false, "tickSize": 4,
                               "domainColor": "#333333", "tickColor": "#333333", "labelColor": "#333333", "titleColor": "#333333",
                               "labelFont": "DejaVu Sans", "titleFont": "DejaVu Sans", "labelFontSize": 10, "titleFontSize": 10, "titleFontWeight": "normal", "labelPadding": 2, "titlePadding": 3}},
                "y": {"field": "hi", "type": "quantitative", "title": "Z-score", "scale": {"domain": [-20, 10], "nice": false, "zero": false},
                      "axis": {"values": [-20, -15, -10, -5, 0, 5, 10], "grid": false, "tickSize": 4,
                               "labelExpr": "replace(datum.label, '-', '−')",
                               "domainColor": "#333333", "tickColor": "#333333", "labelColor": "#333333", "titleColor": "#333333",
                               "labelFont": "DejaVu Sans", "titleFont": "DejaVu Sans", "labelFontSize": 10, "titleFontSize": 10, "titleFontWeight": "normal", "labelPadding": 2, "titlePadding": 6}},
                "y2": {"field": "lo"},
                "color": {"field": "src", "type": "nominal", "scale": {"domain": ["X-ray", "NMR"], "range": ["#b0c4de", "#4682b4"]},
                          "legend": {"orient": "top-right", "title": null, "offset": 4, "fillColor": "white", "strokeColor": "#dddddd", "padding": 5, "cornerRadius": 3,
                                     "symbolType": "M-2.7,-0.9H2.7V0.9H-2.7Z", "symbolSize": 100, "symbolStrokeWidth": 0, "symbolOffset": 9, "labelOffset": 14,
                                     "labelFont": "DejaVu Sans", "labelFontSize": 9, "labelColor": "#333333", "rowPadding": 3}}
              }
            },
            {
              "data": {"name": "out"},
              "mark": {"type": "circle", "size": 14, "opacity": 1},
              "encoding": {
                "x": {"field": "n", "type": "quantitative", "title": "Number of residues"},
                "y": {"field": "z", "type": "quantitative", "title": "Z-score"},
                "color": {"field": "src", "type": "nominal"}
              }
            },
            {
              "data": {"name": "nmr"},
              "mark": {"type": "area", "interpolate": "linear", "opacity": 1},
              "encoding": {
                "x": {"field": "n", "type": "quantitative", "title": "Number of residues"},
                "y": {"field": "hi", "type": "quantitative", "title": "Z-score"},
                "y2": {"field": "lo"},
                "color": {"field": "src", "type": "nominal"}
              }
            },
            {
              "data": {"name": "nmrbar"},
              "mark": {"type": "rule", "strokeWidth": 3.5, "strokeCap": "square"},
              "encoding": {
                "x": {"field": "n", "type": "quantitative", "title": "Number of residues"},
                "y": {"field": "hi", "type": "quantitative", "title": "Z-score"},
                "y2": {"field": "lo"},
                "color": {"field": "src", "type": "nominal"}
              }
            },
            {
              "data": {"name": "model"},
              "mark": {"type": "circle", "size": 50, "color": "#000000", "opacity": 1},
              "encoding": {
                "x": {"field": "n", "type": "quantitative", "title": "Number of residues"},
                "y": {"field": "z", "type": "quantitative", "title": "Z-score"}
              }
            }
          ]
        }
      ]
    }
  ]
}
